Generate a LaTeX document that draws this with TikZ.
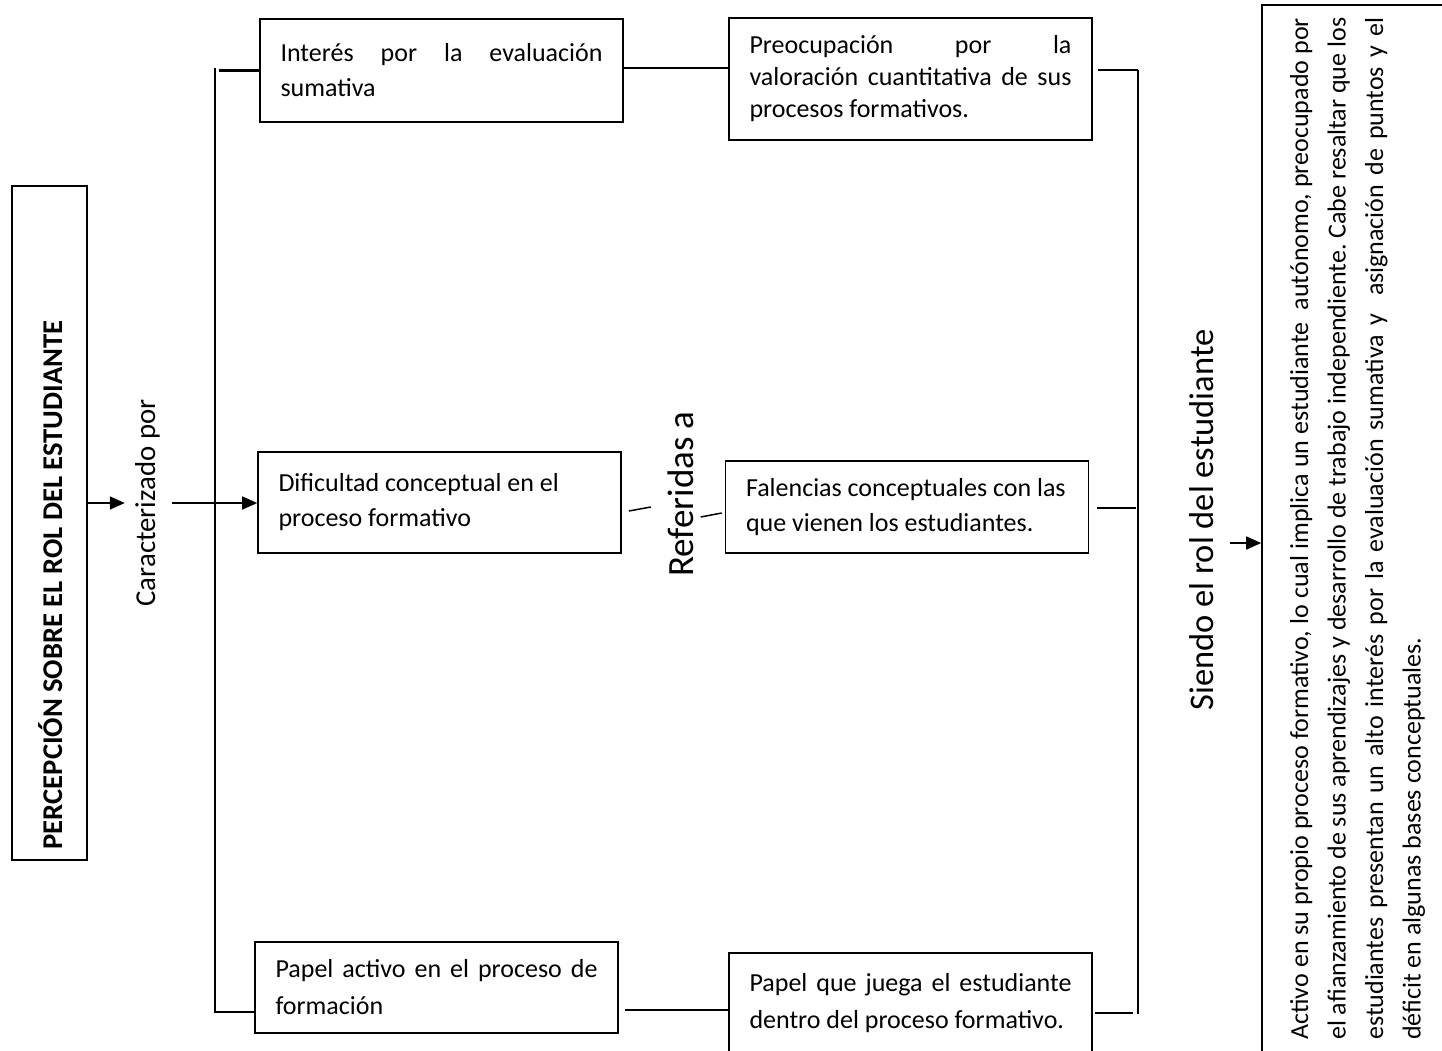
\documentclass[tikz,border=0pt]{standalone}
\usepackage{fontspec}
\setmainfont{Carlito}
\usetikzlibrary{arrows.meta,calc}

% natural word spaces of the current font
\newcommand\natsp{\spaceskip=0pt\xspaceskip=0pt\relax}
% a line stretched to the full width given
\newcommand\jline[2]{{\spaceskip=\fontdimen2\font plus 1fil\relax
  \xspaceskip=\spaceskip\makebox[#1][s]{#2}}}

\begin{document}
\begin{tikzpicture}[x=1pt,y=-1pt,
  box/.style={draw, line width=1.6pt, rectangle, inner xsep=20.5pt, inner ysep=0pt,
    text width=322pt, minimum height=#1},
  boxfont/.style={font=\fontsize{26}{#1}\selectfont},
  conn/.style={line width=1.5pt},
  stub/.style={line width=2.6pt},
  arr/.style={line width=1.6pt, -{Triangle[length=15pt,width=13pt]}},
  vlabel/.style={rotate=90, anchor=base, inner xsep=0pt}
]
\useasboundingbox (0,0) rectangle (1442,1050);
\clip (0,0) rectangle (1442,1050);

% title box and its label
\node[draw, line width=1.6pt, minimum width=75pt, minimum height=674pt, inner sep=0pt]
  (tb) at (49.5,523) {};
\node[vlabel, font=\fontsize{28.6}{32}\selectfont\bfseries] (title) at (62,585)
  {PERCEPCIÓN SOBRE EL ROL DEL ESTUDIANTE};

% connecting label
\node[vlabel, font=\fontsize{28.8}{32}\selectfont, text height=20pt, text depth=7pt,
  inner ysep=10pt] (car) at (155,503) {Caracterizado por};

% left column
\node[box=103pt, boxfont=35] (int) at (441.5,70.5)
  {\natsp\jline{322pt}{Interés por la evaluación}\\ sumativa\par\vspace{14pt}};
\node[box=101pt, boxfont=35] (dif) at (439.5,502.5)
  {\natsp Dificultad conceptual en el\\ proceso formativo\par\vspace{14pt}};
\node[box=91pt, boxfont=37] (pa) at (436.5,987.5)
  {\natsp\jline{322pt}{Papel activo en el proceso de}\\ formación};

% right column
\node[box=122pt, boxfont=32] (pre) at (910.5,79)
  {\natsp\jline{322pt}{Preocupación por la}\\ \jline{322pt}{valoración cuantitativa de sus}\\ procesos formativos.};
\node[box=92pt, boxfont=35] (fal) at (907,507)
  {\natsp Falencias conceptuales con las\\ que vienen los estudiantes.};
\node[box=100pt, boxfont=37] (pj) at (910.5,1003)
  {\natsp\jline{322pt}{Papel que juega el estudiante}\\ dentro del proceso formativo.};

% middle and right labels
\node[vlabel, font=\fontsize{37}{40}\selectfont] (ref) at (693,494) {Referidas a};
\node[vlabel, font=\fontsize{34.5}{38}\selectfont] (sie) at (1213,520) {Siendo el rol del estudiante};

% description box
\node[draw, line width=1.6pt, minimum width=208pt, minimum height=1075pt, inner sep=0pt]
  (rb) at (1366,542.5) {};
\node[rotate=90, anchor=base west, inner sep=0pt, text width=1022pt,
  font=\fontsize{26}{37.5}\selectfont] (rt) at (1308,1040)
  {\natsp\jline{1022pt}{Activo en su propio proceso formativo, lo cual implica un estudiante \ autónomo, preocupado por}\\
   \jline{1022pt}{el afianzamiento de sus aprendizajes y desarrollo de trabajo independiente. Cabe resaltar que los}\\
   \jline{1022pt}{estudiantes presentan un alto interés por la evaluación sumativa y \ asignación de puntos y el}\\
   déficit en algunas bases conceptuales.};

% helper points
\coordinate (r1) at (0,68);
\coordinate (r3) at (0,1010);
\coordinate (lbt) at (215,68);
\coordinate (lbb) at (215,1012);
\coordinate (rbt) at (1138,70);
\coordinate (rbb) at (1138,1014);
\coordinate (sa) at (1230,543);

% arrows
\draw[arr] (tb.east |- car.north) -- (car.north);
\draw[arr] (car.south) -- (dif.west |- car.south);
\draw[arr] (sa) -- (rb.west |- sa);

% left bracket
\draw[conn] (lbt) -- (lbb) -- (pa.west |- lbb);
\draw[stub] ($(lbt |- int.west)+(4,0)$) -- (int.west);

% row links
\draw[conn] (int.east |- r1) -- (pre.west |- r1);
\draw[conn] ($(pa.east |- r3)+(6,0)$) -- (pj.west |- r3);
\draw[conn] ($(dif.east)+(7,8.5)$) -- ($(dif.east)+(29,4.5)$);
\draw[conn] ($(fal.west)+(-24,10)$) -- ($(fal.west)+(-3,6)$);

% right bracket
\draw[conn] (rbt) -- (rbb);
\draw[stub] ($(pre.east |- rbt)+(5,0)$) -- (rbt);
\draw[conn] ($(fal.east)+(8,1)$) -- ($(rbt |- fal.east)+(-2,1)$);
\draw[stub] ($(pj.east |- rbb)+(2,-1)$) -- ($(rbb)+(-5,-1)$);
\end{tikzpicture}
\end{document}
